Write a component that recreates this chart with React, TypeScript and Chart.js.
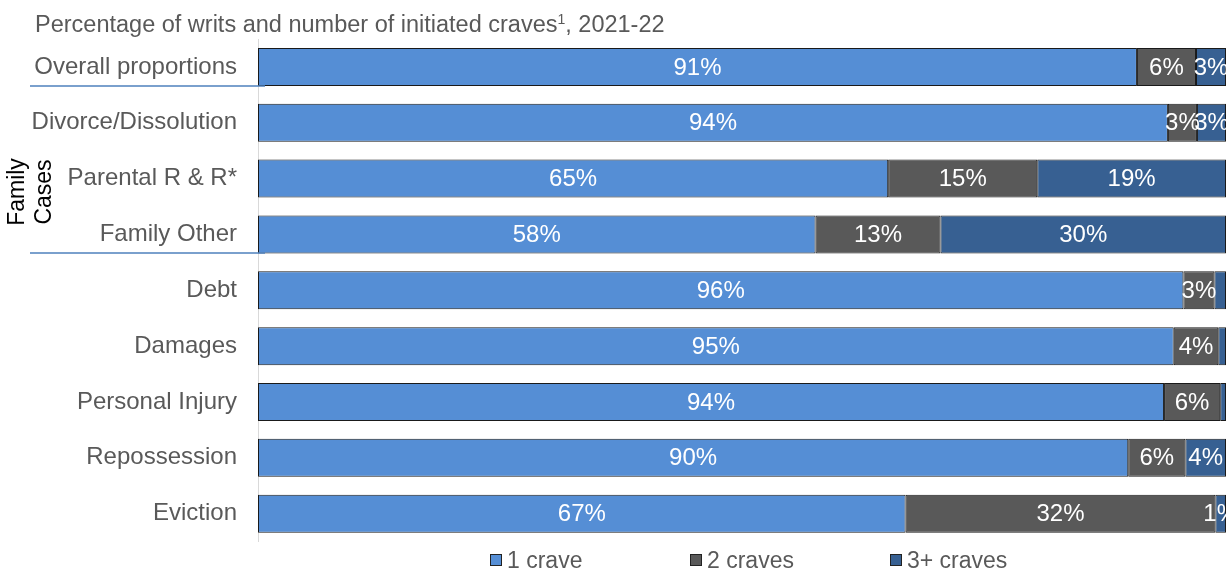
import { useEffect, useRef } from 'react';
import { Chart, registerables } from 'chart.js';

Chart.register(...registerables);

const FONT = '"Liberation Sans", Arial, Helvetica, sans-serif';

const categories = [
  'Overall proportions',
  'Divorce/Dissolution',
  'Parental R & R*',
  'Family Other',
  'Debt',
  'Damages',
  'Personal Injury',
  'Repossession',
  'Eviction',
];

const seriesNames = ['1 crave', '2 craves', '3+ craves'];
const seriesColors = ['#558ED5', '#595959', '#376092'];

const oneCrave = [90.8, 94.0, 65.1, 57.6, 95.6, 94.6, 93.6, 89.9, 66.9];
const twoCraves = [6.1, 3.0, 15.4, 12.9, 3.2, 4.6, 5.8, 5.9, 32.0];
const threePlusCraves = [3.1, 3.0, 19.5, 29.5, 1.2, 0.8, 0.6, 4.2, 1.1];

const oneCraveLabels = ['91%', '94%', '65%', '58%', '96%', '95%', '94%', '90%', '67%'];
const twoCravesLabels = ['6%', '3%', '15%', '13%', '3%', '4%', '6%', '6%', '32%'];
const threePlusLabels = ['3%', '3%', '19%', '30%', '', '', '', '4%', '1%'];

const titleMain = 'Percentage of writs and number of initiated craves';
const titleSup = '1';
const titleTail = ', 2021-22';

const overlayPlugin = {
  id: 'overlay',
  afterDatasetsDraw(chart: any) {
    const ctx = chart.ctx;
    const labelSets = [oneCraveLabels, twoCravesLabels, threePlusLabels];
    ctx.save();
    ctx.font = `24px ${FONT}`;
    ctx.fillStyle = '#ffffff';
    ctx.textAlign = 'center';
    ctx.textBaseline = 'middle';
    chart.data.datasets.forEach((_: any, i: number) => {
      const meta = chart.getDatasetMeta(i);
      meta.data.forEach((el: any, j: number) => {
        const text = labelSets[i][j];
        if (!text) return;
        const p = el.getProps(['x', 'base', 'y'], true);
        ctx.fillText(text, (p.x + p.base) / 2, p.y + 1);
      });
    });
    ctx.restore();
  },
  afterDraw(chart: any) {
    const ctx = chart.ctx;
    ctx.save();
    // title
    ctx.fillStyle = '#595959';
    ctx.textAlign = 'left';
    ctx.textBaseline = 'alphabetic';
    let x = 35;
    const ty = 32;
    ctx.font = `23.5px ${FONT}`;
    ctx.fillText(titleMain, x, ty);
    x += ctx.measureText(titleMain).width;
    ctx.font = `14px ${FONT}`;
    ctx.fillText(titleSup, x, ty - 8);
    x += ctx.measureText(titleSup).width;
    ctx.font = `23.5px ${FONT}`;
    ctx.fillText(titleTail, x, ty);

    // group separator lines
    ctx.strokeStyle = '#4F81BD';
    ctx.lineWidth = 1.5;
    ctx.beginPath();
    ctx.moveTo(30, 86);
    ctx.lineTo(265, 86);
    ctx.moveTo(30, 253);
    ctx.lineTo(265, 253);
    ctx.stroke();

    // Family Cases rotated label
    ctx.fillStyle = '#000000';
    ctx.font = `23px ${FONT}`;
    ctx.textAlign = 'center';
    ctx.textBaseline = 'middle';
    ctx.save();
    ctx.translate(18, 192);
    ctx.rotate(-Math.PI / 2);
    ctx.fillText('Family', 0, 0);
    ctx.restore();
    ctx.save();
    ctx.translate(45, 192);
    ctx.rotate(-Math.PI / 2);
    ctx.fillText('Cases', 0, 0);
    ctx.restore();

    // legend
    const lx = [490, 690, 890];
    ctx.font = `23px ${FONT}`;
    ctx.textAlign = 'left';
    ctx.textBaseline = 'middle';
    seriesNames.forEach((name, i) => {
      ctx.fillStyle = seriesColors[i];
      ctx.fillRect(lx[i], 554, 12, 12);
      ctx.strokeStyle = '#222222';
      ctx.lineWidth = 1;
      ctx.strokeRect(lx[i] + 0.5, 554.5, 11, 11);
      ctx.fillStyle = '#595959';
      ctx.fillText(name, lx[i] + 17, 562);
    });
    ctx.restore();
  },
};

export default function App() {
  const ref = useRef<HTMLCanvasElement | null>(null);
  useEffect(() => {
    if (!ref.current) return;
    const values = [oneCrave, twoCraves, threePlusCraves];
    const chart = new Chart(ref.current, {
      type: 'bar',
      data: {
        labels: categories,
        datasets: seriesNames.map((name, i) => ({
          label: name,
          data: values[i],
          backgroundColor: seriesColors[i],
          borderColor: '#1a1a1a',
          borderWidth: 1,
          borderSkipped: false,
          barPercentage: 0.68,
          categoryPercentage: 1,
        })),
      },
      options: {
        indexAxis: 'y',
        responsive: false,
        animation: false,
        layout: { padding: { left: 0, right: 0, top: 39, bottom: 27 } },
        plugins: {
          legend: { display: false },
          title: { display: false },
          tooltip: { enabled: false },
        },
        scales: {
          x: {
            stacked: true,
            min: 0,
            max: 100,
            display: false,
          },
          y: {
            stacked: true,
            grid: { display: false },
            border: { display: true, color: '#d9d9d9', width: 1 },
            ticks: {
              color: '#595959',
              font: { family: FONT, size: 24 },
              padding: 13,
            },
            afterFit(scale: any) {
              scale.width = 258;
            },
          },
        },
      },
      plugins: [overlayPlugin],
    });
    return () => chart.destroy();
  }, []);
  return (
    <div style={{ position: 'absolute', left: 0, top: 0, width: 1226, height: 569 }}>
      <canvas ref={ref} width={1226} height={569} />
    </div>
  );
}
